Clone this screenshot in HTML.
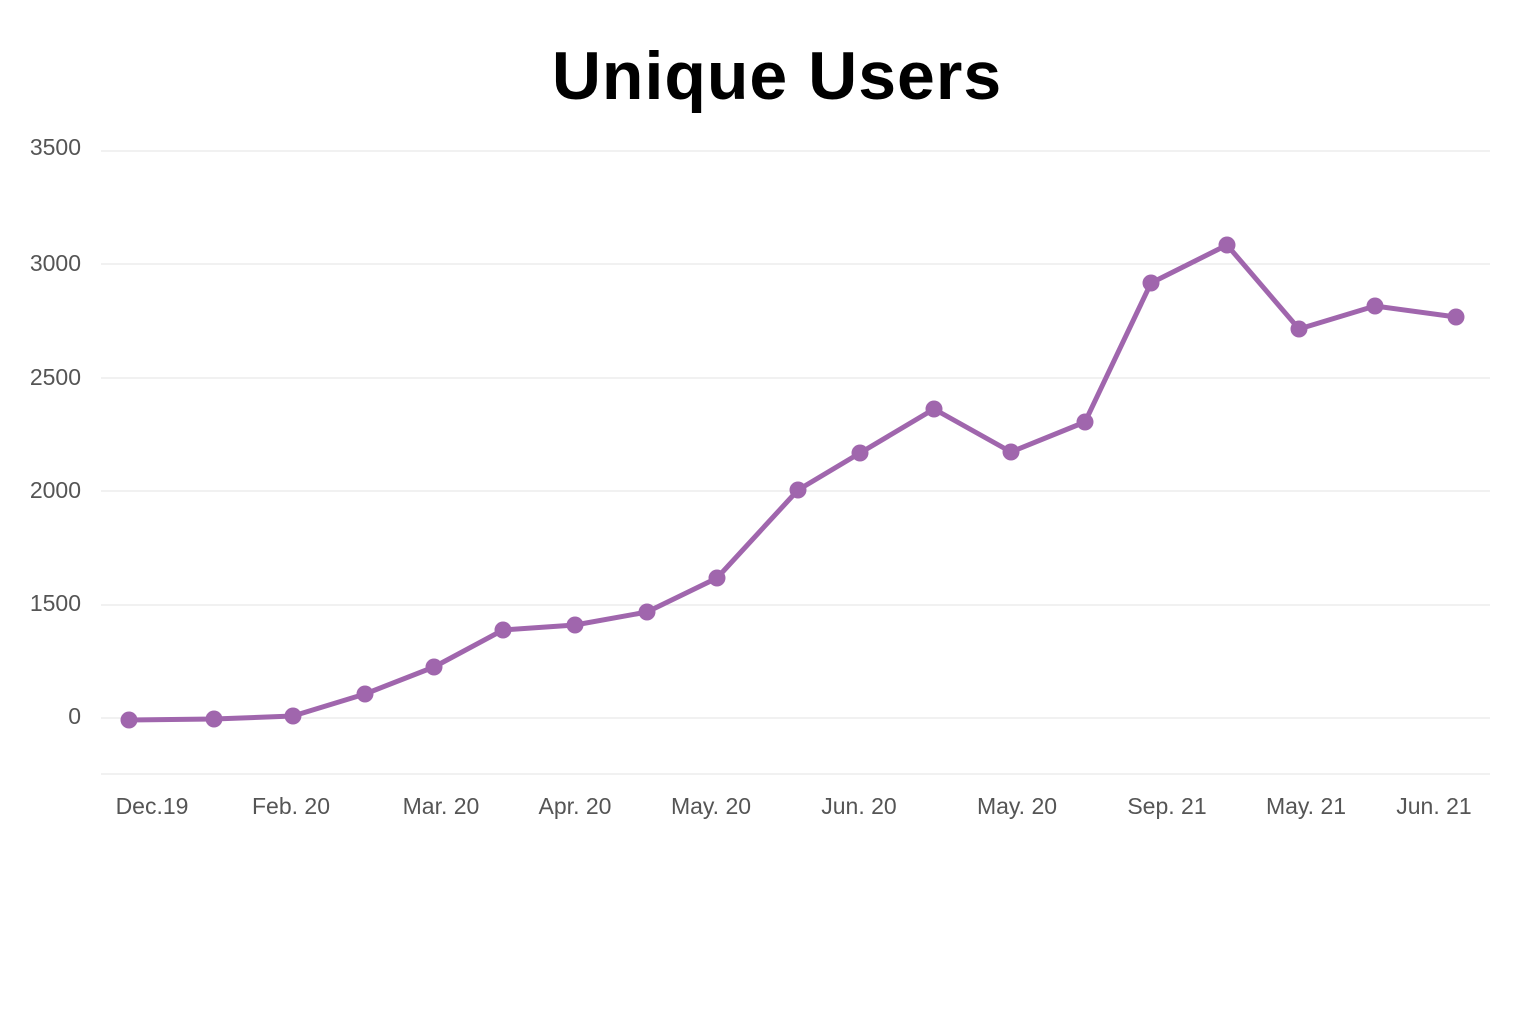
<!DOCTYPE html>
<html><head><meta charset="utf-8"><style>
html,body{margin:0;padding:0;background:#fff;}
svg{display:block;}
</style></head><body>
<svg width="1536" height="1024" xmlns="http://www.w3.org/2000/svg">
<text x="777" y="99" text-anchor="middle" font-family="Liberation Sans, sans-serif" font-weight="bold" font-size="68" letter-spacing="1" fill="#000">Unique Users</text>
<g stroke="#e3e3e3" stroke-width="1">
<line x1="101" y1="151" x2="1490" y2="151"/>
<line x1="101" y1="264" x2="1490" y2="264"/>
<line x1="101" y1="378" x2="1490" y2="378"/>
<line x1="101" y1="491" x2="1490" y2="491"/>
<line x1="101" y1="605" x2="1490" y2="605"/>
<line x1="101" y1="718" x2="1490" y2="718"/>
<line x1="101" y1="774" x2="1490" y2="774"/>
</g>
<g font-family="Liberation Sans, sans-serif" font-size="23" fill="#555" text-anchor="end">
<text x="81" y="155">3500</text>
<text x="81" y="271">3000</text>
<text x="81" y="385">2500</text>
<text x="81" y="498">2000</text>
<text x="81" y="611">1500</text>
<text x="81" y="724">0</text>
</g>
<g font-family="Liberation Sans, sans-serif" font-size="23" fill="#555" text-anchor="middle">
<text x="152" y="814">Dec.19</text>
<text x="291" y="814">Feb. 20</text>
<text x="441" y="814">Mar. 20</text>
<text x="575" y="814">Apr. 20</text>
<text x="711" y="814">May. 20</text>
<text x="859" y="814">Jun. 20</text>
<text x="1017" y="814">May. 20</text>
<text x="1167" y="814">Sep. 21</text>
<text x="1306" y="814">May. 21</text>
<text x="1434" y="814">Jun. 21</text>
</g>
<polyline fill="none" stroke="#a066ad" stroke-width="5" stroke-linejoin="round" points="129,720 214,719 293,716 365,694 434,667 503,630 575,625 647,612 717,578 798,490 860,453 934,409 1011,452 1085,422 1151,283 1227,245 1299,329 1375,306 1456,317"/>
<g fill="#a066ad">
<circle cx="129" cy="720" r="8.5"/><circle cx="214" cy="719" r="8.5"/><circle cx="293" cy="716" r="8.5"/><circle cx="365" cy="694" r="8.5"/><circle cx="434" cy="667" r="8.5"/><circle cx="503" cy="630" r="8.5"/><circle cx="575" cy="625" r="8.5"/><circle cx="647" cy="612" r="8.5"/><circle cx="717" cy="578" r="8.5"/><circle cx="798" cy="490" r="8.5"/><circle cx="860" cy="453" r="8.5"/><circle cx="934" cy="409" r="8.5"/><circle cx="1011" cy="452" r="8.5"/><circle cx="1085" cy="422" r="8.5"/><circle cx="1151" cy="283" r="8.5"/><circle cx="1227" cy="245" r="8.5"/><circle cx="1299" cy="329" r="8.5"/><circle cx="1375" cy="306" r="8.5"/><circle cx="1456" cy="317" r="8.5"/>
</g>
</svg>
</body></html>
